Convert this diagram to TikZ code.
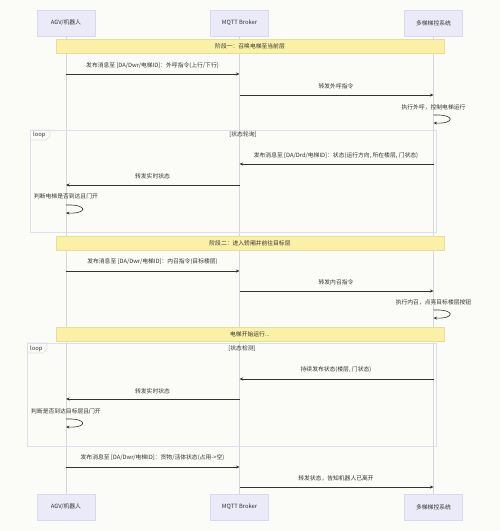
\documentclass[tikz,border=0pt]{standalone}
\usepackage{fontspec}
\setmainfont{Noto Sans CJK SC}
\usetikzlibrary{arrows.meta}
\definecolor{bg}{HTML}{FBFBF7}
\definecolor{actfill}{HTML}{EAEAF8}
\definecolor{actline}{HTML}{D9D9EE}
\definecolor{notefill}{HTML}{FAF1A6}
\definecolor{noteline}{HTML}{E6DE9A}
\definecolor{lifecol}{HTML}{D4D7DE}
\definecolor{loopcol}{HTML}{DCE0EA}
\definecolor{txt}{HTML}{333333}
\begin{document}
\begin{tikzpicture}[x=1pt,y=-1pt,
  font=\fontsize{5.8}{6.8}\selectfont, text=txt,
  actor/.style={draw=actline, fill=actfill, minimum width=58pt, minimum height=26pt, inner sep=0pt, line width=0.5pt},
  note/.style={draw=noteline, fill=notefill, minimum width=388pt, minimum height=14pt, inner sep=0pt, line width=0.5pt},
  msg/.style={draw=txt, line width=0.6pt, -{Stealth[length=3.5pt,width=3pt]}},
  life/.style={draw=lifecol, line width=0.6pt},
  loopbox/.style={draw=loopcol, line width=0.6pt},
  lbl/.style={inner sep=0pt}
]
\useasboundingbox[fill=bg] (0,0) rectangle (500,531);

% actors
\node[actor] (aT) at (66,23) {AGV/机器人};
\node[actor] (bT) at (239.5,23) {MQTT Broker};
\node[actor] (cT) at (433.5,23) {多梯梯控系统};
\node[actor] (aB) at (66,507) {AGV/机器人};
\node[actor] (bB) at (239.5,507) {MQTT Broker};
\node[actor] (cB) at (433.5,507) {多梯梯控系统};

% lifelines
\draw[life] (aT.south) -- (aB.north);
\draw[life] (bT.south) -- (bB.north);
\draw[life] (cT.south) -- (cB.north);

% loop boxes
\draw[loopbox] (30,130) rectangle (436.5,232);
\draw[loopbox] (30,130) -- (50,130) -- (50,136) -- (46,140) -- (30,140);
\node[lbl, anchor=west] (l1) at (33,135) {loop};
\node[lbl] (l1c) at (243,135) {[状态轮询]};

\draw[loopbox] (27,343) rectangle (436.5,446);
\draw[loopbox] (27,343) -- (47,343) -- (47,349) -- (43,353) -- (27,353);
\node[lbl, anchor=west] (l2) at (30,348.5) {loop};
\node[lbl] (l2c) at (242,348.5) {[状态检测]};

% notes
\node[note] (n1) at (250,46) {阶段一：召唤电梯至当前层};
\node[note] (n2) at (250,243.5) {阶段二：进入轿厢并前往目标层};
\node[note] (n3) at (250,334) {电梯开始运行...};

% coordinates on lifelines
\foreach \n/\y in {1/74,2/95,4/164,5/185,7/271,8/291,10/379,11/399,13/467,14/487}{
  \coordinate (a\n) at (66,\y);
  \coordinate (b\n) at (239.5,\y);
  \coordinate (c\n) at (433.5,\y);
}
\coordinate (s3a) at (433.5,115); \coordinate (s3b) at (433.5,123);
\coordinate (s6a) at (66,205);    \coordinate (s6b) at (66,213);
\coordinate (s9a) at (433.5,310); \coordinate (s9b) at (433.5,318);
\coordinate (s12a) at (66,419);   \coordinate (s12b) at (66,427);

% phase 1
\node[lbl] (t1) at (152.5,66) {发布消息至 [DA/Dwr/电梯ID]：外呼指令(上行/下行)};
\draw[msg] (a1) -- (b1);
\node[lbl] (t2) at (336,86) {转发外呼指令};
\draw[msg] (b2) -- (c2);
\node[lbl] (t3) at (433.5,107) {执行外呼，控制电梯运行};
\draw[msg] (s3a) .. controls +(22,-1) and +(22,1) .. (s3b);

\node[lbl] (t4) at (336,156) {发布消息至 [DA/Drd/电梯ID]：状态(运行方向, 所在楼层, 门状态)};
\draw[msg] (c4) -- (b4);
\node[lbl] (t5) at (152.5,176) {转发实时状态};
\draw[msg] (b5) -- (a5);
\node[lbl] (t6) at (66,196) {判断电梯是否到达且门开};
\draw[msg] (s6a) .. controls +(22,-1) and +(22,1) .. (s6b);

% phase 2
\node[lbl] (t7) at (152.5,261.5) {发布消息至 [DA/Dwr/电梯ID]：内召指令(目标楼层)};
\draw[msg] (a7) -- (b7);
\node[lbl] (t8) at (336,282) {转发内召指令};
\draw[msg] (b8) -- (c8);
\node[lbl] (t9) at (433.5,302) {执行内召，点亮目标楼层按钮};
\draw[msg] (s9a) .. controls +(22,-1) and +(22,1) .. (s9b);

\node[lbl] (t10) at (336,370) {持续发布状态(楼层, 门状态)};
\draw[msg] (c10) -- (b10);
\node[lbl] (t11) at (152.5,391) {转发实时状态};
\draw[msg] (b11) -- (a11);
\node[lbl] (t12) at (66,411) {判断是否到达目标层且门开};
\draw[msg] (s12a) .. controls +(22,-1) and +(22,1) .. (s12b);

\node[lbl] (t13) at (152.5,458) {发布消息至 [DA/Dwr/电梯ID]：货物/活体状态(占用->空)};
\draw[msg] (a13) -- (b13);
\node[lbl] (t14) at (336,478) {转发状态，告知机器人已离开};
\draw[msg] (b14) -- (c14);
\end{tikzpicture}
\end{document}
